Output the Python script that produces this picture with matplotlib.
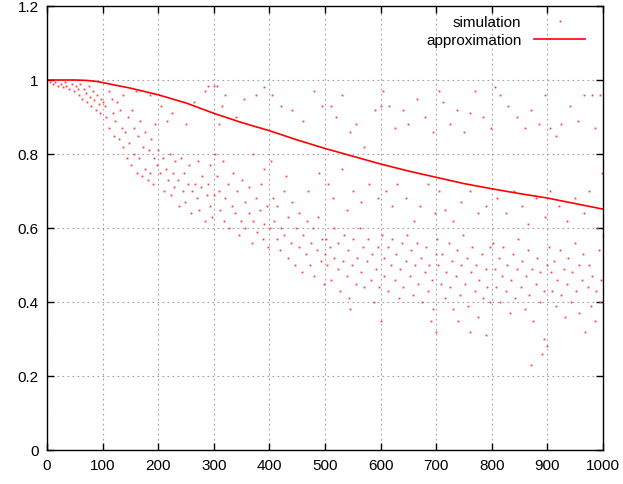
import numpy as np
import matplotlib.pyplot as plt

plt.rcParams['font.family'] = ['Liberation Sans', 'DejaVu Sans']

# Approximation curve
approx_x = [0, 50, 70, 90, 100, 150, 200, 250, 300, 350, 400, 450, 500, 550,
            600, 650, 700, 750, 800, 850, 900, 950, 1000]
approx_y = [1.0, 1.0, 0.999, 0.996, 0.993, 0.978, 0.96, 0.938, 0.91, 0.885, 0.863,
            0.838, 0.815, 0.794, 0.773, 0.754, 0.737, 0.72, 0.706, 0.693,
            0.681, 0.666, 0.651]

# Simulation points (by x range)
sim_0_100 = [(5, 0.995), (10, 0.99), (15, 0.995), (20, 0.985), (25, 0.99), (28, 0.98),
             (32, 0.995), (35, 0.985), (40, 0.975), (45, 0.99), (48, 0.97), (52, 0.985),
             (55, 0.975), (58, 0.96), (60, 0.99), (63, 0.95), (66, 0.975), (70, 0.965),
             (72, 0.94), (75, 0.985), (78, 0.955), (80, 0.93), (83, 0.97), (85, 0.945),
             (88, 0.92), (90, 0.96), (93, 0.935), (95, 0.91), (98, 0.95), (100, 0.94)]
sim_100_200 = [(104, 0.93), (107, 0.9), (111, 0.97), (112, 0.87), (117, 0.95), (118, 0.91),
               (121, 0.85), (123, 0.89), (126, 0.94), (129, 0.84), (131, 0.92), (134, 0.87),
               (136, 0.82), (137, 0.96), (141, 0.86), (143, 0.79), (146, 0.9), (147, 0.83),
               (151, 0.77), (153, 0.92), (156, 0.87), (157, 0.8), (161, 0.75), (164, 0.85),
               (166, 0.79), (167, 0.89), (171, 0.74), (173, 0.82), (176, 0.76), (177, 0.86),
               (181, 0.73), (183, 0.81), (186, 0.75), (187, 0.84), (191, 0.72), (193, 0.79),
               (194, 0.88), (197, 0.77), (200, 0.81), (160, 0.97), (185, 0.96)]
sim_200_300 = [(205, 0.93), (215, 0.89), (225, 0.91), (250, 0.88), (265, 0.94), (285, 0.97),
               (290, 0.985), (300, 0.985), (204, 0.75), (209, 0.79), (211, 0.7), (214, 0.76),
               (217, 0.73), (221, 0.8), (223, 0.69), (226, 0.75), (229, 0.71), (231, 0.78),
               (236, 0.73), (237, 0.66), (241, 0.79), (244, 0.7), (247, 0.75), (249, 0.67),
               (254, 0.72), (255, 0.77), (259, 0.64), (261, 0.7), (266, 0.72), (269, 0.68),
               (271, 0.78), (274, 0.65), (277, 0.71), (279, 0.74), (284, 0.62), (287, 0.69),
               (289, 0.72), (293, 0.66), (294, 0.77), (297, 0.63), (301, 0.69)]
sim_300_400 = [(305, 0.985), (315, 0.93), (320, 0.96), (340, 0.9), (355, 0.95), (375, 0.96),
               (390, 0.98), (310, 0.88), (302, 0.8), (306, 0.74), (309, 0.7), (311, 0.65),
               (316, 0.78), (319, 0.62), (321, 0.68), (326, 0.72), (327, 0.6), (333, 0.66),
               (334, 0.75), (339, 0.64), (341, 0.7), (346, 0.58), (349, 0.62), (351, 0.73),
               (356, 0.67), (357, 0.6), (363, 0.64), (364, 0.71), (369, 0.56), (371, 0.62),
               (376, 0.68), (377, 0.59), (383, 0.65), (384, 0.72), (389, 0.57), (391, 0.61),
               (396, 0.66), (397, 0.55), (401, 0.6), (370, 0.8), (390, 0.76)]
sim_400_500 = [(405, 0.96), (420, 0.93), (440, 0.92), (460, 0.89), (480, 0.97), (495, 0.93),
               (402, 0.78), (406, 0.68), (409, 0.62), (413, 0.57), (414, 0.66), (419, 0.54),
               (421, 0.6), (426, 0.7), (427, 0.58), (433, 0.52), (434, 0.63), (439, 0.56),
               (441, 0.67), (446, 0.5), (447, 0.6), (453, 0.55), (454, 0.64), (459, 0.48),
               (461, 0.58), (466, 0.53), (467, 0.62), (473, 0.5), (474, 0.56), (479, 0.6),
               (481, 0.47), (486, 0.54), (487, 0.63), (493, 0.51), (494, 0.57), (499, 0.45),
               (500, 0.53), (430, 0.74), (470, 0.7), (490, 0.75)]
sim_500_600 = [(510, 0.93), (520, 0.9), (530, 0.96), (545, 0.86), (555, 0.88), (570, 0.82),
               (590, 0.92), (600, 0.93), (505, 0.72), (515, 0.68), (530, 0.76), (540, 0.65),
               (550, 0.7), (565, 0.67), (580, 0.72), (595, 0.68), (502, 0.57), (504, 0.5),
               (509, 0.55), (511, 0.46), (516, 0.52), (517, 0.6), (523, 0.49), (524, 0.56),
               (527, 0.43), (533, 0.51), (534, 0.58), (539, 0.47), (541, 0.54), (544, 0.41),
               (549, 0.5), (551, 0.57), (556, 0.45), (557, 0.52), (563, 0.6), (564, 0.48),
               (569, 0.55), (571, 0.44), (576, 0.51), (577, 0.57), (583, 0.46), (584, 0.53),
               (589, 0.4), (591, 0.49), (596, 0.55), (597, 0.44), (600, 0.35), (545, 0.38)]
sim_600_700 = [(605, 0.97), (615, 0.93), (625, 0.87), (640, 0.92), (650, 0.88), (665, 0.95),
               (680, 0.9), (695, 0.86), (610, 0.7), (620, 0.66), (630, 0.72), (645, 0.68),
               (660, 0.62), (670, 0.66), (685, 0.72), (698, 0.64), (602, 0.58), (606, 0.52),
               (607, 0.47), (613, 0.55), (614, 0.43), (619, 0.5), (621, 0.57), (626, 0.46),
               (627, 0.53), (633, 0.41), (634, 0.49), (639, 0.56), (641, 0.44), (646, 0.51),
               (647, 0.58), (653, 0.47), (654, 0.54), (659, 0.42), (661, 0.5), (666, 0.56),
               (667, 0.45), (673, 0.52), (674, 0.4), (679, 0.48), (681, 0.55), (686, 0.43),
               (687, 0.5), (693, 0.46), (694, 0.38), (699, 0.53), (700, 0.32), (690, 0.35)]
sim_700_800 = [(705, 0.97), (712, 0.94), (725, 0.88), (738, 0.92), (750, 0.86), (760, 0.91),
               (770, 0.97), (785, 0.9), (798, 0.87), (705, 0.7), (715, 0.65), (730, 0.62),
               (745, 0.67), (760, 0.7), (775, 0.64), (790, 0.66), (702, 0.57), (704, 0.5),
               (709, 0.45), (711, 0.53), (716, 0.41), (717, 0.48), (723, 0.56), (724, 0.44),
               (729, 0.51), (731, 0.38), (736, 0.47), (737, 0.54), (743, 0.42), (744, 0.5),
               (749, 0.58), (751, 0.45), (756, 0.52), (757, 0.39), (763, 0.48), (764, 0.55),
               (769, 0.43), (771, 0.5), (776, 0.36), (777, 0.46), (783, 0.53), (784, 0.41),
               (789, 0.49), (791, 0.44), (796, 0.55), (797, 0.4), (740, 0.35), (760, 0.32),
               (790, 0.31)]
sim_800_900 = [(805, 0.98), (815, 0.96), (830, 0.93), (845, 0.9), (860, 0.87), (870, 0.92),
               (885, 0.88), (895, 0.96), (810, 0.68), (825, 0.64), (840, 0.7), (855, 0.66),
               (865, 0.61), (880, 0.68), (895, 0.63), (802, 0.56), (806, 0.49), (807, 0.44),
               (813, 0.52), (814, 0.4), (819, 0.47), (821, 0.55), (826, 0.43), (827, 0.5),
               (833, 0.37), (834, 0.46), (839, 0.53), (841, 0.41), (846, 0.49), (847, 0.57),
               (853, 0.44), (854, 0.51), (859, 0.38), (861, 0.47), (866, 0.54), (867, 0.42),
               (873, 0.49), (874, 0.35), (879, 0.45), (881, 0.52), (886, 0.4), (887, 0.48),
               (893, 0.43), (894, 0.3), (899, 0.5), (870, 0.23), (890, 0.26), (900, 0.28)]
sim_900_1000 = [(905, 0.87), (915, 0.85), (925, 0.88), (940, 0.93), (955, 0.89), (965, 0.96),
                (980, 0.96), (995, 0.96), (985, 0.87), (998, 0.75), (905, 0.7), (920, 0.66),
                (935, 0.62), (950, 0.68), (965, 0.64), (975, 0.7), (990, 0.6), (902, 0.55),
                (906, 0.48), (909, 0.43), (911, 0.51), (916, 0.39), (917, 0.46), (923, 0.54),
                (924, 0.42), (929, 0.49), (931, 0.36), (936, 0.45), (937, 0.52), (943, 0.4),
                (944, 0.48), (949, 0.56), (951, 0.43), (956, 0.5), (957, 0.37), (963, 0.46),
                (964, 0.53), (968, 0.32), (973, 0.44), (974, 0.5), (979, 0.39), (981, 0.47),
                (986, 0.35), (987, 0.43), (992, 0.54), (994, 0.4), (997, 0.46), (1000, 0.58)]

sim = np.array(sim_0_100 + sim_100_200 + sim_200_300 + sim_300_400 + sim_400_500
               + sim_500_600 + sim_600_700 + sim_700_800 + sim_800_900 + sim_900_1000)

fig = plt.figure(figsize=(6.23, 4.85), dpi=100)
ax = fig.add_axes([47 / 623, 34 / 485, 556 / 623, 444 / 485])

ax.plot(sim[:, 0], sim[:, 1], linestyle='none', marker='s', markersize=1.3,
        markeredgewidth=0, color='#ff4040', label='simulation')
ax.plot(approx_x, approx_y, color='red', linewidth=1.2, label='approximation')

ax.set_xlim(0, 1000)
ax.set_ylim(0, 1.2)
ax.set_xticks(np.arange(0, 1001, 100))
ax.set_yticks(np.arange(0, 1.21, 0.2))
ax.set_yticklabels(['0', '0.2', '0.4', '0.6', '0.8', '1', '1.2'])
ax.grid(True, color='#a0a0a0', linestyle=(0, (1.5, 3)), linewidth=0.8)
ax.tick_params(direction='in', length=5, width=1, top=True, right=True,
               labelsize=11, pad=6)
for s in ax.spines.values():
    s.set_linewidth(1)

ax.legend(loc='upper right', frameon=False, markerfirst=False, fontsize=11,
          handlelength=3.4, borderaxespad=0.2, labelspacing=0.25,
          bbox_to_anchor=(0.985, 1.0))

fig.savefig('out.png', dpi=100)
